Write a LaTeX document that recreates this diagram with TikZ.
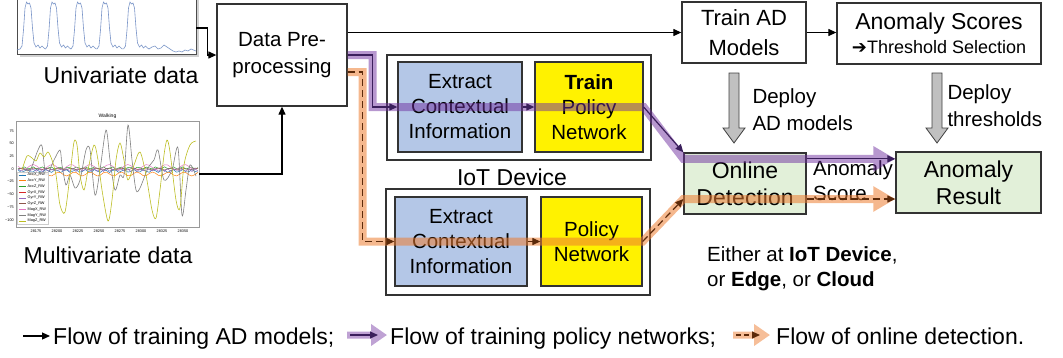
\documentclass[tikz,border=0pt]{standalone}
\usepackage{fontspec}
\setmainfont{Liberation Sans}
\newfontfamily\symfont{DejaVu Sans}
\usetikzlibrary{arrows.meta}

\definecolor{ctxblue}{HTML}{B4C7E7}
\definecolor{onlgreen}{HTML}{E2F0D9}
\definecolor{trainpurple}{HTML}{7030A0}
\definecolor{darkpurple}{HTML}{3B1F5C}
\definecolor{detorange}{HTML}{ED7D31}
\definecolor{darkbrown}{HTML}{5C2A0A}
\definecolor{deploygray}{HTML}{C0C0C0}
\definecolor{plotblue}{HTML}{7A95C8}
\definecolor{mplblue}{HTML}{1F77B4}
\definecolor{mplorange}{HTML}{FF7F0E}
\definecolor{mplgreen}{HTML}{2CA02C}
\definecolor{mplred}{HTML}{D62728}
\definecolor{mplpurple}{HTML}{9467BD}
\definecolor{mplbrown}{HTML}{8C564B}
\definecolor{mplpink}{HTML}{E377C2}
\definecolor{mplgray}{HTML}{7F7F7F}
\definecolor{mplolive}{HTML}{BCBD22}

\tikzset{
  box/.style={draw=black!80, line width=1.3pt, align=center, inner sep=0pt},
  big/.style={font=\fontsize{23}{27}\selectfont},
  mid/.style={font=\fontsize{20.5}{25}\selectfont},
  tickfont/.style={font=\fontsize{3.8}{4}\selectfont, inner sep=0pt},
  blackflow/.style={line width=1.2pt, -{Triangle[length=8pt,width=7pt]}},
  trainflow/.style={darkpurple, line width=1.2pt, -{Triangle[length=8pt,width=7pt]}},
  detflow/.style={darkbrown, line width=1.2pt, dash pattern=on 7pt off 4pt, -{Triangle[length=8pt,width=7pt]}},
  trainband/.style={trainpurple, line width=8pt, -{Triangle[length=22pt,width=24pt]}},
  detband/.style={detorange, line width=8pt, -{Triangle[length=22pt,width=24pt]}},
  deploy/.style={draw=black!75, fill=deploygray, line width=0.8pt}
}

\begin{document}
\begin{tikzpicture}[x=1pt, y=-1pt]
\useasboundingbox (0,0) rectangle (1063,357);

% univariate input
\fill[black!18] (20,-3) rectangle (199,57);
\node (uni) [draw=black!70, fill=white, line width=0.8pt, minimum width=179pt, minimum height=60pt, inner sep=0pt] at (106.5,24) {};
\begin{scope}
\clip (uni.south west) rectangle (uni.north east);
\draw[plotblue, line width=0.6pt] (17,50) -- (20,49);
\foreach \s in {0,25.5,51,77,103.5}
  \draw[plotblue, line width=0.6pt, shift={(\s,0)}] plot coordinates {(20,49) (22,46) (23.5,30) (25,8) (26.5,2) (28,4) (29.5,3) (31,8) (32.5,28) (34,43) (36,47) (38,45) (40,48) (42,46) (44,48) (45.5,49)};
\draw[plotblue, line width=0.6pt] plot coordinates {(149,49) (152,47) (155,46) (158,49) (161,48) (164,45) (167,47) (170,49) (173,51) (176,52) (179,51) (182,52) (185,50) (188,51) (191,49) (196,51)};
\end{scope}
\node (unilabel) [big] at (121,75.5) {Univariate data};

% multivariate input
\node (multi) [draw=black!40, line width=0.7pt, minimum width=183pt, minimum height=106pt, inner sep=0pt] at (107.5,174) {};
\node (multititle) [font=\fontsize{5}{5}\selectfont, inner sep=0pt] at (107.5,116.5) {Walking};
\foreach \v/\lab in {75/75,50/50,25/25,0/0,-25/−25,-50/−50,-75/−75,-100/−100}
  \node[tickfont, anchor=east] at (14,{169-0.507*\v}) {\lab};
\foreach \lab [count=\i from 0] in {28175,28200,28225,28250,28275,28300,28325,28350}
  \node[tickfont] at ({36+21*\i},231) {\lab};
\begin{scope}
\clip (multi.south west) rectangle (multi.north east);
\draw[mplblue, line width=0.5pt] plot[domain=18:198, samples=60] (\x,{171+1.5*sin(37*\x)});
\draw[mplorange, line width=0.5pt] plot[domain=18:198, samples=60] (\x,{174+2*sin(23*\x)});
\draw[mplgreen, line width=0.5pt] plot[domain=18:198, samples=60] (\x,{168+1.2*sin(41*\x)});
\draw[mplpink, line width=0.5pt] plot[domain=18:198, samples=60] (\x,{167+2.5*sin(19*\x)});
\draw[mplbrown, line width=0.5pt] plot[domain=18:198, samples=60] (\x,{169+1*sin(29*\x)});
\draw[mplpurple, line width=0.5pt] plot[domain=18:198, samples=60] (\x,{170+1.5*sin(53*\x)});
\draw[mplgray, line width=0.6pt] plot[smooth] coordinates {(22,168) (30,170) (38,150) (42,146) (46,175) (54,160) (60,150) (62,165) (66,185) (70,175) (75,188) (80,180) (86,150) (90,150) (95,195) (100,170) (106,130) (110,160) (115,190) (120,175) (124,175) (128,125) (132,160) (136,190) (140,188) (148,168) (154,160) (158,150) (164,180) (172,170) (178,148) (182,215) (186,190) (190,165) (196,176)};
\draw[mplolive, line width=0.6pt] plot[smooth] coordinates {(22,170) (27,156) (32,158) (36,161) (40,153) (44,157) (48,152) (52,160) (56,175) (60,205) (65,212) (70,175) (74,142) (77,145) (80,175) (84,190) (88,170) (94,145) (98,160) (102,190) (108,221) (112,200) (116,160) (120,143) (124,160) (128,180) (134,165) (140,152) (146,175) (152,210) (156,218) (160,190) (164,155) (167,140) (170,152) (176,200) (180,208) (184,165) (190,145) (196,141)};
\end{scope}
\node (mleg) [draw=black!20, fill=white, fill opacity=0.85, minimum width=31pt, minimum height=52pt, inner sep=0pt] at (33,198) {};
\foreach \lab/\col [count=\i from 0] in {AccX\_RW/mplblue, AccY\_RW/mplorange, AccZ\_RW/mplgreen, GyrX\_RW/mplred, GyrY\_RW/mplpurple, GyrZ\_RW/mplbrown, MagX\_RW/mplpink, MagY\_RW/mplgray, MagZ\_RW/mplolive} {
  \draw[\col, line width=0.7pt] (19,{175+5.75*\i}) -- ++(7,0);
  \node[tickfont, anchor=west] at (27.5,{175+5.75*\i}) {\lab};
}
\node (multilabel) [big] at (108,255) {Multivariate data};

% processing boxes
\node (prep) [box, mid, minimum width=130pt, minimum height=102pt] at (282,55) {Data Pre-\\[2pt]processing};
\node (trainad) [box, font=\fontsize{22}{30}\selectfont, minimum width=124pt, minimum height=61pt] at (744,32.5) {Train AD\\Models};
\node (scores) [box, big, minimum width=204pt, minimum height=61pt] at (939,33.5) {Anomaly Scores\\[-3pt]{\fontsize{18}{20}\selectfont{\symfont ➔}Threshold Selection}};

\node (dev1) [box, minimum width=264pt, minimum height=105pt] at (519,107.5) {};
\node (ext1) [box, mid, fill=ctxblue, minimum width=124pt, minimum height=90pt] at (460,107) {Extract\\Contextual\\Information};
\node (pol1) [box, mid, fill=yellow, minimum width=108pt, minimum height=90pt] at (589,107) {\textbf{Train}\\Policy\\Network};
\node (iot) [big] at (512,177) {IoT Device};
\node (dev2) [box, minimum width=264pt, minimum height=106pt] at (518,242) {};
\node (ext2) [box, mid, fill=ctxblue, minimum width=132pt, minimum height=89pt] at (461,241.5) {Extract\\Contextual\\Information};
\node (pol2) [box, mid, fill=yellow, minimum width=101pt, minimum height=89pt] at (591.5,241.5) {Policy\\Network};

\node (online) [box, big, fill=onlgreen, minimum width=122pt, minimum height=61pt] at (745,183.5) {Online\\Detection};
\node (result) [box, big, fill=onlgreen, minimum width=145pt, minimum height=61pt] at (968.5,182.5) {Anomaly\\Result};

\node (dep1) [mid, align=left, anchor=west] at (749,110) {Deploy\\[2pt]AD models};
\node (dep2) [mid, align=left, anchor=west] at (944,106) {Deploy\\[2pt]thresholds};
\node (score) [mid, align=left, anchor=west, inner sep=0pt] at (813,181) {Anomaly\\Score};
\node (where) [mid, align=left, anchor=west, inner sep=0pt] at (707,269) {Either at \textbf{IoT Device},\\or \textbf{Edge}, or \textbf{Cloud}};

\coordinate (ptop) at ([yshift=-6.5pt]online.north east);
\coordinate (pbot) at ([yshift=-15.5pt]online.east);

% deploy arrows
\foreach \x in {734,937}
  \draw[deploy] (\x-5,73) -- (\x+5,73) -- (\x+5,128) -- (\x+11,128) -- (\x,143) -- (\x-11,128) -- (\x-5,128) -- cycle;

% training AD models
\draw[blackflow] ([yshift=-4pt]uni.east) -- ++(11,0) |- (prep.west);
\draw[blackflow] (multi.east) -| (prep.south);
\draw[blackflow] (prep.east |- trainad.west) -- (trainad.west);
\draw[blackflow] (trainad.east) -- (trainad.east -| scores.west);

% wide bands
\begin{scope}[transparency group, opacity=0.5]
\draw[trainband] (prep.east) -- ++(25,0) |- (pol1.east) -- (ptop -| online.west) -- (ptop -| result.west);
\end{scope}
\begin{scope}[transparency group, opacity=0.55]
\draw[detband] ([yshift=-17pt]prep.east) -- ++(15,0) |- (pol2.east) -- (pbot -| online.west) -- (pbot -| result.west);
\end{scope}

% training policy networks
\draw[trainflow] (prep.east) -- ++(25,0) |- (ext1.west);
\draw[trainflow] (ext1.east) -- (pol1.west);
\draw[trainflow] (pol1.east) -- (online.north west);
\draw[trainflow] (ptop) -- (ptop -| result.west);

% online detection
\draw[detflow] ([yshift=-17pt]prep.east) -- ++(15,0) |- (ext2.west);
\draw[detflow] (ext2.east) -- (pol2.west);
\draw[detflow] (pol2.east) -- (pbot -| online.west);
\draw[detflow] (pbot) -- (pbot -| result.west);

% legend
\node (leg1) [big, anchor=base west, inner sep=0pt] at (53,344) {Flow of training AD models;};
\node (leg2) [big, anchor=base west, inner sep=0pt] at (390,344) {Flow of training policy networks;};
\node (leg3) [big, anchor=base west, inner sep=0pt] at (776,344) {Flow of online detection.};
\draw[blackflow] ([xshift=-30pt,yshift=8pt]leg1.base west) -- ([xshift=-3pt,yshift=8pt]leg1.base west);
\begin{scope}[transparency group, opacity=0.45]
\draw[trainpurple, line width=7pt, -{Triangle[length=16pt,width=21pt]}] ([xshift=-43pt,yshift=9pt]leg2.base west) -- ([xshift=-3pt,yshift=9pt]leg2.base west);
\end{scope}
\draw[trainflow] ([xshift=-40pt,yshift=9pt]leg2.base west) -- ([xshift=-12pt,yshift=9pt]leg2.base west);
\begin{scope}[transparency group, opacity=0.5]
\draw[detorange, line width=7pt, -{Triangle[length=16pt,width=21pt]}] ([xshift=-43pt,yshift=9pt]leg3.base west) -- ([xshift=-6pt,yshift=9pt]leg3.base west);
\end{scope}
\draw[detflow, dash pattern=on 5pt off 3pt] ([xshift=-40pt,yshift=9pt]leg3.base west) -- ([xshift=-16pt,yshift=9pt]leg3.base west);

\end{tikzpicture}
\end{document}
